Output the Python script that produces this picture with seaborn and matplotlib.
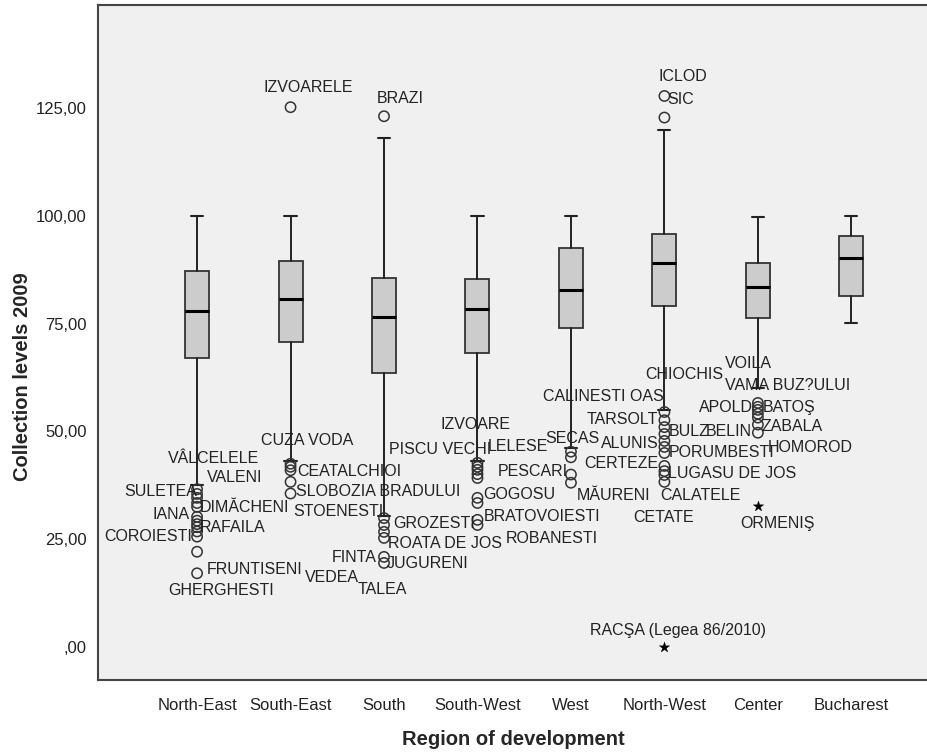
import numpy as np
import pandas as pd
import matplotlib
matplotlib.use('Agg')
import matplotlib.pyplot as plt
import seaborn as sns

# box statistics per region
regions = ['North-East', 'South-East', 'South', 'South-West', 'West', 'North-West', 'Center', 'Bucharest']
q1 = [67.1, 70.8, 63.5, 68.2, 73.9, 79.1, 76.3, 81.3]
medians = [78.0, 80.8, 76.5, 78.3, 82.9, 89.0, 83.5, 90.3]
q3 = [87.1, 89.5, 85.7, 85.3, 92.5, 95.9, 89.1, 95.4]
whisk_lo = [37.6, 43.2, 30.4, 43.2, 46.2, 55.0, 60.0, 75.2]
whisk_hi = [100.0, 100.0, 118.0, 100.0, 100.0, 120.0, 99.7, 100.0]

# outliers (circles): region index, value, label
out_region = [0] * 13 + [1] * 6 + [2] * 7 + [3] * 9 + [4] * 4 + [5] * 13 + [6] * 7
out_value = [36.6, 35.5, 34.6, 33.4, 32.5, 30.2, 29.3, 28.5, 27.8, 26.8, 25.6, 22.1, 17.1,
             125.2, 42.5, 41.8, 41.0, 38.3, 35.6,
             123.1, 29.9, 28.3, 26.7, 25.3, 20.9, 19.5,
             42.7, 41.8, 41.1, 40.1, 39.2, 34.6, 33.4, 29.5, 28.3,
             45.3, 44.0, 40.0, 38.1,
             127.8, 122.8, 54.5, 52.6, 51.0, 49.4, 47.8, 46.4, 45.0, 42.0, 40.8, 39.9, 38.3,
             56.6, 55.7, 55.0, 54.1, 53.2, 51.6, 49.7]
out_label = ['VÂLCELELE', 'VALENI', 'SULETEA', 'DIMĂCHENI', '', 'IANA', '', 'RAFAILA', '', '',
             'COROIESTI', 'FRUNTISENI', 'GHERGHESTI',
             'IZVOARELE', 'CUZA VODA', '', 'CEATALCHIOI', 'SLOBOZIA BRADULUI', 'STOENESTI',
             'BRAZI', 'GROZESTI', 'VEDEA', 'ROATA DE JOS', 'TALEA', 'FINTA', 'JUGURENI',
             'PISCU VECHI', 'IZVOARE', 'LELESE', 'PESCARI', '', 'GOGOSU', '', 'BRATOVOIESTI', 'ROBANESTI',
             'CALINESTI OAS', 'SECAS', '', 'MĂURENI',
             'ICLOD', 'SIC', 'CHIOCHIS', 'TARSOLT', 'BULZ', 'ALUNIS', '', 'PORUMBESTI', 'CERTEZE', '',
             'LUGASU DE JOS', 'CALATELE', 'CETATE',
             'VOILA', 'VAMA BUZ?ULUI', 'APOLD', 'BATOŞ', 'ZABALA', 'BELIN', 'HOMOROD']

# extreme values (stars)
ext_region = [5, 6]
ext_value = [0.0, 32.7]
ext_label = ['RACŞA (Legea 86/2010)', 'ORMENIŞ']

# label placement (pixel offsets from the point, alignment)
out_offsets = [(-29, 31, 'left'), (10, 16, 'left'), (0, 6, 'right'), (3, -4, 'left'), None,
               (-7, 2, 'right'), None, (3, -3, 'left'), None, None, (-5, 0, 'right'),
               (10, -18, 'left'), (-29, -17, 'left'),
               (-27, 20, 'left'), (-30, 23, 'left'), None, (7, -1, 'left'), (5, -10, 'left'), (3, -18, 'left'),
               (-7, 18, 'left'), (9, -5, 'left'), (-79, -53, 'left'), (4, -12, 'left'), (-26, -52, 'left'),
               (-7, -1, 'right'), (3, -1, 'left'),
               (-88, 13, 'left'), (-37, 42, 'left'), (10, 23, 'left'), (20, 3, 'left'), None,
               (6, 3, 'left'), None, (6, 3, 'left'), (28, -14, 'left'),
               (-28, 55, 'left'), (-26, 19, 'left'), None, (6, -13, 'left'),
               (-6, 19, 'left'), (3, 18.5, 'left'), (-19, 38, 'left'), (-6, 1, 'right'), (4, -4, 'left'),
               (-6, -9, 'right'), None, (4, -6, 'left'), (-6, -11, 'right'), None, (4, -2, 'left'),
               (-4, -21, 'left'), (-31, -36, 'left'),
               (-33, 39, 'left'), (-33, 21, 'left'), (-5, 2, 'right'), (5, 6, 'left'), (4, -9, 'left'),
               (-6, -7, 'right'), (10, -15, 'left')]
ext_offsets = [(-74, 17, 'left'), (-18, -17, 'left')]

yticks = [0, 25, 50, 75, 100, 125]
ytick_labels = [',00', '25,00', '50,00', '75,00', '100,00', '125,00']

sns.set_style('white')
plt.rcParams['font.family'] = ['Liberation Sans', 'DejaVu Sans']

fig = plt.figure(figsize=(9.28, 7.53), dpi=100)
ax = fig.add_axes([98 / 928, 73 / 753, 830 / 928, 675 / 753])
ax.set_facecolor('#F0F0F0')

stats = []
for i in range(len(regions)):
    stats.append({'med': medians[i], 'q1': q1[i], 'q3': q3[i],
                  'whislo': whisk_lo[i], 'whishi': whisk_hi[i], 'fliers': []})

ax.bxp(stats, positions=range(len(regions)), widths=0.257, capwidths=0.13,
       patch_artist=True, showfliers=False,
       boxprops=dict(facecolor='#CCCCCC', edgecolor='#333333', linewidth=1.3),
       medianprops=dict(color='black', linewidth=2.2),
       whiskerprops=dict(color='#222222', linewidth=1.4),
       capprops=dict(color='#222222', linewidth=1.5))

out_df = pd.DataFrame({'region': out_region, 'value': out_value})
sns.scatterplot(data=out_df, x='region', y='value', ax=ax, marker='o', s=55,
                facecolors='none', edgecolor='#333333', linewidth=1.1, zorder=3)
ext_df = pd.DataFrame({'region': ext_region, 'value': ext_value})
sns.scatterplot(data=ext_df, x='region', y='value', ax=ax, marker='*', s=60,
                color='black', edgecolor='black', linewidth=0.3, zorder=3)

for r, v, lab, off in zip(out_region, out_value, out_label, out_offsets):
    if lab and off:
        ax.annotate(lab, xy=(r, v), xytext=(off[0], off[1]), textcoords='offset pixels',
                    ha=off[2], va='center', fontsize=11.5, color='#222222')
for r, v, lab, off in zip(ext_region, ext_value, ext_label, ext_offsets):
    ax.annotate(lab, xy=(r, v), xytext=(off[0], off[1]), textcoords='offset pixels',
                ha=off[2], va='center', fontsize=11.5, color='#222222')

ax.set_xlim(-1.06, 7.82)
ax.set_ylim(-7.65, 148.9)
ax.set_xticks(range(len(regions)))
ax.set_xticklabels(regions, fontsize=12, color='#222222')
ax.set_yticks(yticks)
ax.set_yticklabels(ytick_labels, fontsize=12, color='#222222')
ax.tick_params(axis='both', direction='out', length=5, width=1.2, color='#333333')
ax.tick_params(axis='x', pad=8)
ax.tick_params(axis='y', pad=3)

for side in ['left', 'top', 'bottom']:
    ax.spines[side].set_color('#444444')
    ax.spines[side].set_linewidth(1.5)
ax.spines['right'].set_visible(False)

ax.set_xlabel('Region of development', fontsize=14.5, fontweight='bold', labelpad=12)
ax.set_ylabel('Collection levels 2009', fontsize=14.5, fontweight='bold')
ax.yaxis.set_label_coords(-0.08, 0.449)

fig.savefig('out.png', dpi=100, facecolor='white')
